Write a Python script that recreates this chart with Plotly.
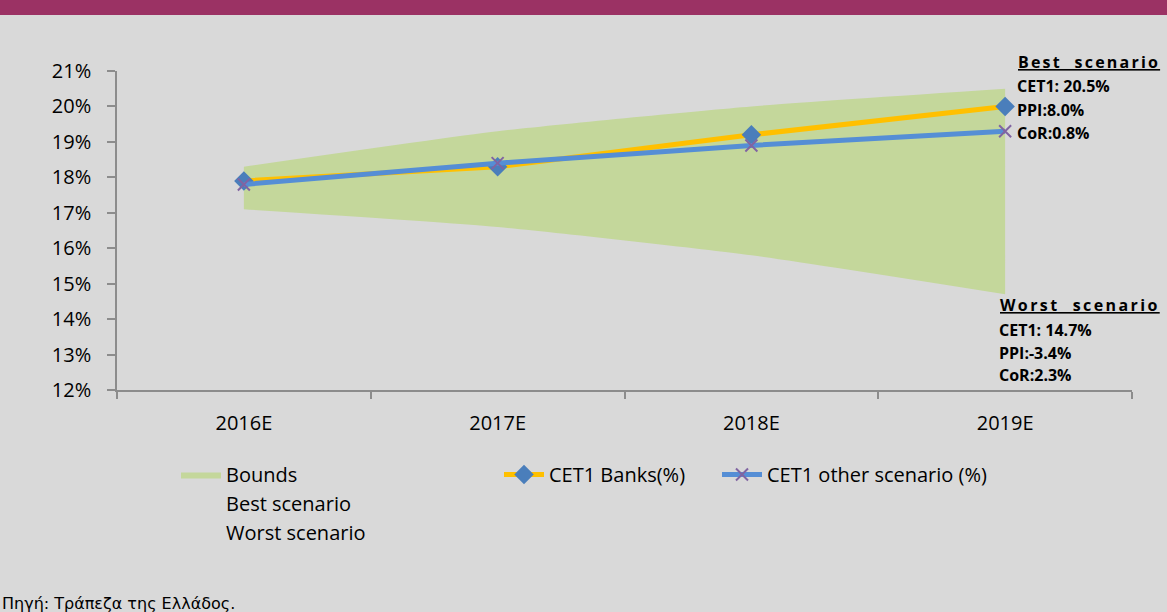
import plotly.graph_objects as go

# ---- data ----
years = ["2016E", "2017E", "2018E", "2019E"]
bound_upper = [18.3, 19.3, 20.0, 20.5]
bound_lower = [17.1, 16.6, 15.8, 14.7]
cet1_banks = [17.9, 18.3, 19.2, 20.0]
cet1_other = [17.8, 18.4, 18.9, 19.3]
y_range = [12, 21]

best_lines = ["CET1: 20.5%", "PPI:8.0%", "CoR:0.8%"]
worst_lines = ["CET1: 14.7%", "PPI:-3.4%", "CoR:2.3%"]

# ---- geometry helpers (pixel -> paper) ----
W, H = 1167, 612
L, R, T, B = 117, 35, 71, 222
PW, PH = W - L - R, H - T - B


def px(x):
    return (x - L) / PW


def py(y):
    return (H - B - y) / PH


BG = "#D9D9D9"
FONT = "Open Sans"
FS = 20

fig = go.Figure()

fig.add_trace(go.Scatter(
    x=years, y=bound_lower, mode="lines", line=dict(width=0, shape="spline", smoothing=0.6),
    showlegend=False, hoverinfo="skip"))
fig.add_trace(go.Scatter(
    x=years, y=bound_upper, mode="lines", line=dict(width=0, shape="spline", smoothing=0.6),
    fill="tonexty", fillcolor="#C4D79B", name="Bounds", legend="legend", hoverinfo="skip"))
fig.add_trace(go.Scatter(
    x=[None], y=[None], mode="lines", line=dict(width=0, color=BG),
    name="Best scenario", legend="legend"))
fig.add_trace(go.Scatter(
    x=[None], y=[None], mode="lines", line=dict(width=0, color=BG),
    name="Worst scenario", legend="legend"))
fig.add_trace(go.Scatter(
    x=years, y=cet1_banks, mode="lines+markers", name="CET1 Banks(%)",
    line=dict(color="#FFC000", width=5),
    marker=dict(symbol="diamond", size=15, color="#4A7EBB"),
    legend="legend2"))
fig.add_trace(go.Scatter(
    x=years, y=cet1_other, mode="lines+markers", name="CET1 other scenario (%)",
    line=dict(color="#558ED5", width=5),
    marker=dict(symbol="x-thin", size=12, color="#8064A2",
                line=dict(color="#8064A2", width=2)),
    legend="legend3"))

axis_col = "#8C8C8C"
leg_common = dict(xanchor="left", yanchor="top", orientation="v",
                  bgcolor="rgba(0,0,0,0)", traceorder="normal",
                  font=dict(family=FONT, size=FS), itemwidth=40)
fig.update_layout(
    width=W, height=H,
    margin=dict(l=L, r=R, t=T, b=B),
    paper_bgcolor=BG, plot_bgcolor=BG,
    font=dict(family=FONT, size=FS, color="#000000"),
    xaxis=dict(
        type="category", range=[-0.5, 3.5], tickson="boundaries",
        ticks="outside", ticklen=7, tickcolor=axis_col, tickwidth=1.5,
        showline=True, linecolor=axis_col, linewidth=1.5,
        showgrid=False, zeroline=False, ticklabelstandoff=14,
        tickfont=dict(family=FONT, size=FS)),
    yaxis=dict(
        range=y_range, dtick=1, ticksuffix="%",
        ticks="outside", ticklen=8, tickcolor=axis_col, tickwidth=1.5,
        showline=True, linecolor=axis_col, linewidth=1.5,
        showgrid=False, zeroline=False, ticklabelstandoff=12,
        tickfont=dict(family=FONT, size=FS)),
    legend=dict(x=px(176), y=py(455), **leg_common),
    legend2=dict(x=px(499), y=py(455), **leg_common),
    legend3=dict(x=px(717), y=py(455), **leg_common),
    hovermode=False,
)

# purple top band
fig.add_shape(type="rect", xref="paper", yref="paper",
              x0=px(-5), x1=px(W + 5), y0=py(15), y1=py(-5),
              fillcolor="#9B3264", line=dict(width=0), layer="above")

ann_font = dict(family=FONT, size=16, color="#000000")
head_font = dict(family=FONT, size=16, color="#000000", lineposition="under")

fig.add_annotation(xref="paper", yref="paper", x=px(1016), y=py(62),
                   xanchor="left", yanchor="middle", showarrow=False,
                   text="<b><span style='letter-spacing:2.2px'>Best  scenario</span></b>",
                   font=head_font)
for i, t in enumerate(best_lines):
    fig.add_annotation(xref="paper", yref="paper", x=px(1015), y=py(86 + 23.5 * i),
                       xanchor="left", yanchor="middle", showarrow=False,
                       text=f"<b>{t}</b>", font=ann_font)

fig.add_annotation(xref="paper", yref="paper", x=px(998), y=py(305),
                   xanchor="left", yanchor="middle", showarrow=False,
                   text="<b><span style='letter-spacing:2.4px'>Worst  scenario</span></b>",
                   font=head_font)
for i, t in enumerate(worst_lines):
    fig.add_annotation(xref="paper", yref="paper", x=px(997), y=py(330 + 22.5 * i),
                       xanchor="left", yanchor="middle", showarrow=False,
                       text=f"<b>{t}</b>", font=ann_font)

fig.add_annotation(xref="paper", yref="paper", x=px(0), y=py(603),
                   xanchor="left", yanchor="middle", showarrow=False,
                   text="Πηγή: Τράπεζα της Ελλάδος.",
                   font=dict(family="DejaVu Sans", size=16, color="#000000"))

fig.write_html("out.html", config={"displayModeBar": False},
               post_script="document.body.style.margin='0';document.body.style.overflow='hidden';")
